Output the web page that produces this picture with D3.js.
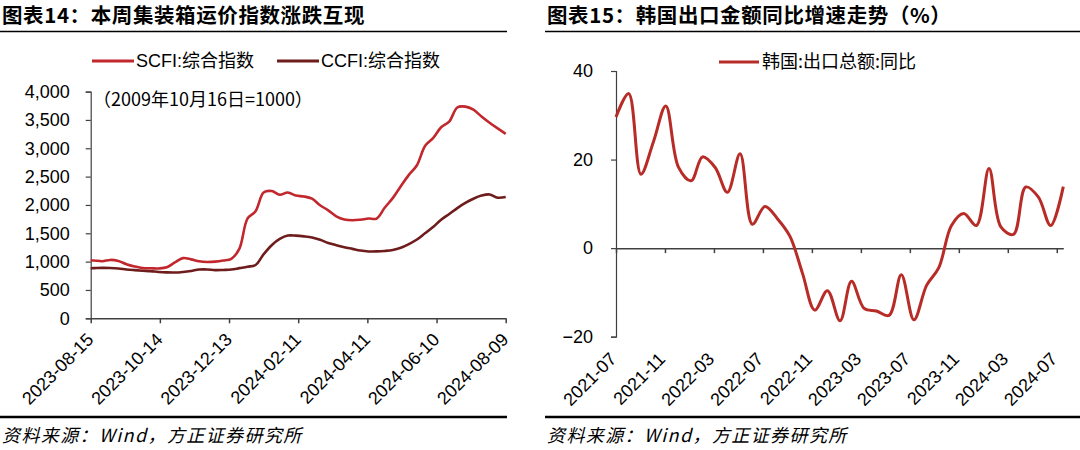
<!DOCTYPE html>
<html><head><meta charset="utf-8">
<script src="https://cdn.jsdelivr.net/npm/d3@7/dist/d3.min.js"></script>
<style>
body{margin:0;background:#fff;}
svg text{font-family:"Liberation Sans",Arial,"Noto Sans CJK SC",sans-serif;}
.cjk{font-family:"Noto Sans CJK SC","Liberation Sans",sans-serif;}
</style></head>
<body><svg id="c" width="1080" height="450"></svg>
<script>
// ---------- Left chart data (weekly) ----------
const freightDates = ["2023-08-11","2023-08-18","2023-08-25","2023-09-01","2023-09-08","2023-09-15","2023-09-22","2023-09-29",
"2023-10-06","2023-10-13","2023-10-20","2023-10-27","2023-11-03","2023-11-10","2023-11-17","2023-11-24",
"2023-12-01","2023-12-08","2023-12-15","2023-12-22","2023-12-29","2024-01-05","2024-01-12","2024-01-19","2024-01-26",
"2024-02-02","2024-02-09","2024-02-16","2024-02-23","2024-03-01","2024-03-08","2024-03-15","2024-03-22","2024-03-29",
"2024-04-05","2024-04-12","2024-04-19","2024-04-26","2024-05-03","2024-05-10","2024-05-17","2024-05-24","2024-05-31",
"2024-06-07","2024-06-14","2024-06-21","2024-06-28","2024-07-05","2024-07-12","2024-07-19","2024-07-26","2024-08-02","2024-08-09"];
const scfi = [1030,1020,1007,1030,1012,955,915,886,
882,880,900,985,1062,1040,1005,993,
1000,1020,1050,1230,1760,1890,2220,2245,2180,
2220,2165,2150,2110,1995,1905,1800,1745,1730,
1740,1760,1760,1950,2120,2330,2530,2700,3040,
3180,3370,3470,3720,3735,3680,3560,3450,3350,3255];
const ccfi = [880,885,890,888,880,862,850,840,
832,818,810,808,818,835,860,862,
850,853,860,885,910,940,1130,1290,1400,
1460,1458,1445,1425,1385,1330,1290,1255,1225,
1195,1180,1180,1188,1205,1245,1310,1390,1500,
1610,1740,1840,1945,2035,2110,2165,2185,2128,2140];
const leftXTicks = ["2023-08-15","2023-10-14","2023-12-13","2024-02-11","2024-04-11","2024-06-10","2024-08-09"];
const leftYTicks = [0,500,1000,1500,2000,2500,3000,3500,4000];
const leftSeriesNames = ["SCFI:综合指数","CCFI:综合指数"];

// ---------- Right chart data (monthly) ----------
const krMonths = ["2021-07","2021-08","2021-09","2021-10","2021-11","2021-12",
"2022-01","2022-02","2022-03","2022-04","2022-05","2022-06","2022-07","2022-08","2022-09","2022-10","2022-11","2022-12",
"2023-01","2023-02","2023-03","2023-04","2023-05","2023-06","2023-07","2023-08","2023-09","2023-10","2023-11","2023-12",
"2024-01","2024-02","2024-03","2024-04","2024-05","2024-06","2024-07"];
const krExportYoY = [29.6,34.9,16.7,24.1,32.1,18.3,
15.2,20.6,18.2,12.6,21.3,5.4,9.4,6.6,2.7,-5.7,-14.0,-9.6,
-16.4,-7.5,-13.6,-14.2,-15.2,-6.0,-16.2,-8.4,-4.4,5.1,7.8,5.1,
18.0,4.8,3.1,13.8,11.5,5.1,13.9];
const rightXTicks = ["2021-07-31","2021-11-28","2022-03-28","2022-07-26","2022-11-23","2023-03-23","2023-07-21","2023-11-18","2024-03-17","2024-07-15"];
const rightYTicks = [-20,0,20,40];
const rightSeriesName = "韩国:出口总额:同比";

const svg = d3.select("#c");
const parse = d3.timeParse("%Y-%m-%d");
const AX = "#404040";

function header(x0, x1, title){
  svg.append("text").attr("class","cjk").attr("x",x0+2).attr("y",23)
    .attr("font-size",20.5).attr("font-weight","bold").attr("letter-spacing",0.6).attr("fill","#000").text(title);
  svg.append("line").attr("x1",x0).attr("x2",x1).attr("y1",31.5).attr("y2",31.5)
    .attr("stroke","#000").attr("stroke-width",1.5);
  svg.append("line").attr("x1",x0).attr("x2",x1).attr("y1",417).attr("y2",417)
    .attr("stroke","#000").attr("stroke-width",2.5);
  svg.append("text").attr("class","cjk").attr("x",x0+2).attr("y",442)
    .attr("font-size",18).attr("font-style","italic").attr("letter-spacing",1.4).attr("fill","#000").text("资料来源：Wind，方正证券研究所");
}

// ================= LEFT =================
header(0, 507, "图表14：本周集装箱运价指数涨跌互现");
{
  const x0=90.7, x1=505.7, yTop=91.6, yBot=318.3;
  const x = d3.scaleTime().domain([parse(leftXTicks[0]), parse(leftXTicks[leftXTicks.length-1])]).range([x0,x1]);
  const y = d3.scaleLinear().domain([0,4000]).range([yBot,yTop]);
  const g = svg.append("g");
  const ya = g.append("g").attr("transform",`translate(${x0},0)`)
    .call(d3.axisLeft(y).tickValues(leftYTicks).tickFormat(d3.format(",")).tickSize(5).tickPadding(16));
  ya.select(".domain").attr("stroke",AX).attr("stroke-width",1.2);
  ya.selectAll(".tick line").attr("stroke",AX).attr("stroke-width",1.2);
  ya.selectAll(".tick text").attr("font-size",18).attr("fill","#000").attr("font-family","Liberation Sans, Arial, sans-serif");
  const xa = g.append("g").attr("transform",`translate(0,${yBot})`)
    .call(d3.axisBottom(x).tickValues(leftXTicks.map(parse)).tickFormat(d3.timeFormat("%Y-%m-%d")).tickSize(5).tickSizeOuter(0));
  xa.select(".domain").attr("stroke",AX).attr("stroke-width",1.5);
  xa.selectAll(".tick line").attr("stroke",AX).attr("stroke-width",1.5);
  xa.selectAll(".tick text").attr("font-size",18).attr("fill","#000").attr("font-family","Liberation Sans, Arial, sans-serif")
    .attr("text-anchor","end").attr("y",0).attr("dy","0.35em")
    .attr("transform","translate(-1,18) rotate(-45)");
  svg.append("clipPath").attr("id","clipL").append("rect").attr("x",x0).attr("y",yTop-20).attr("width",x1-x0+5).attr("height",yBot-yTop+20);
  const pts = freightDates.map(parse);
  const line = (vals)=> d3.line().curve(d3.curveCatmullRom.alpha(0.5)).x((d,i)=>x(pts[i])).y(d=>y(d))(vals);
  g.append("path").attr("d",line(ccfi)).attr("fill","none").attr("stroke","#6E1C1C").attr("stroke-width",2.6).attr("clip-path","url(#clipL)");
  g.append("path").attr("d",line(scfi)).attr("fill","none").attr("stroke","#C1272D").attr("stroke-width",2.6).attr("clip-path","url(#clipL)");
  const leg = [{x:92, c:"#C1272D", t:leftSeriesNames[0]},{x:277, c:"#6E1C1C", t:leftSeriesNames[1]}];
  leg.forEach(l=>{
    svg.append("line").attr("x1",l.x).attr("x2",l.x+42).attr("y1",61).attr("y2",61).attr("stroke",l.c).attr("stroke-width",3);
    svg.append("text").attr("x",l.x+44).attr("y",61).attr("dy","0.35em").attr("font-size",18).attr("fill","#000").text(l.t);
  });
  svg.append("text").attr("class","cjk").attr("x",93).attr("y",100).attr("dy","0.35em").attr("font-size",18).attr("fill","#000")
    .text("（2009年10月16日=1000）");
}

// ================= RIGHT =================
header(545, 1080, "图表15：韩国出口金额同比增速走势（%）");
{
  const x0=616, x1=1063.3, yTop=71, yBot=336.7;
  const monthEnd = m => d3.timeDay.offset(d3.timeMonth.offset(parse(m+"-01"),1),-1);
  const pts = krMonths.map(monthEnd);
  const x = d3.scaleTime().domain([pts[0], pts[pts.length-1]]).range([x0,x1]);
  const y = d3.scaleLinear().domain([-20,40]).range([yBot,yTop]);
  const g = svg.append("g");
  const ya = g.append("g").attr("transform",`translate(${x0},0)`)
    .call(d3.axisLeft(y).tickValues(rightYTicks).tickSize(5).tickPadding(18));
  ya.select(".domain").attr("stroke",AX).attr("stroke-width",1.2);
  ya.selectAll(".tick line").attr("stroke",AX).attr("stroke-width",1.2);
  ya.selectAll(".tick text").attr("font-size",18).attr("fill","#000").attr("font-family","Liberation Sans, Arial, sans-serif");
  const xa = g.append("g").attr("transform",`translate(0,${y(0)})`)
    .call(d3.axisBottom(x).tickValues(rightXTicks.map(parse)).tickFormat(()=>"").tickSize(5).tickSizeOuter(0));
  xa.select(".domain").attr("stroke",AX).attr("stroke-width",1.5);
  xa.selectAll(".tick line").attr("stroke",AX).attr("stroke-width",1.5);
  g.selectAll(".xl").data(rightXTicks.map(parse)).join("text")
    .attr("font-size",18).attr("fill","#000").attr("text-anchor","end").attr("dy","0.35em")
    .attr("transform",d=>`translate(${x(d)-3},${yBot+19}) rotate(-45)`)
    .text(d3.timeFormat("%Y-%m"));
  g.append("path").attr("d", d3.line().curve(d3.curveCatmullRom.alpha(0.5)).x((d,i)=>x(pts[i])).y(d=>y(d))(krExportYoY))
    .attr("fill","none").attr("stroke","#B82C27").attr("stroke-width",3);
  svg.append("line").attr("x1",719).attr("x2",759).attr("y1",62).attr("y2",62).attr("stroke","#B82C27").attr("stroke-width",3);
  svg.append("text").attr("class","cjk").attr("x",762).attr("y",62).attr("dy","0.35em").attr("font-size",18).attr("fill","#000").text(rightSeriesName);
}
</script></body></html>
